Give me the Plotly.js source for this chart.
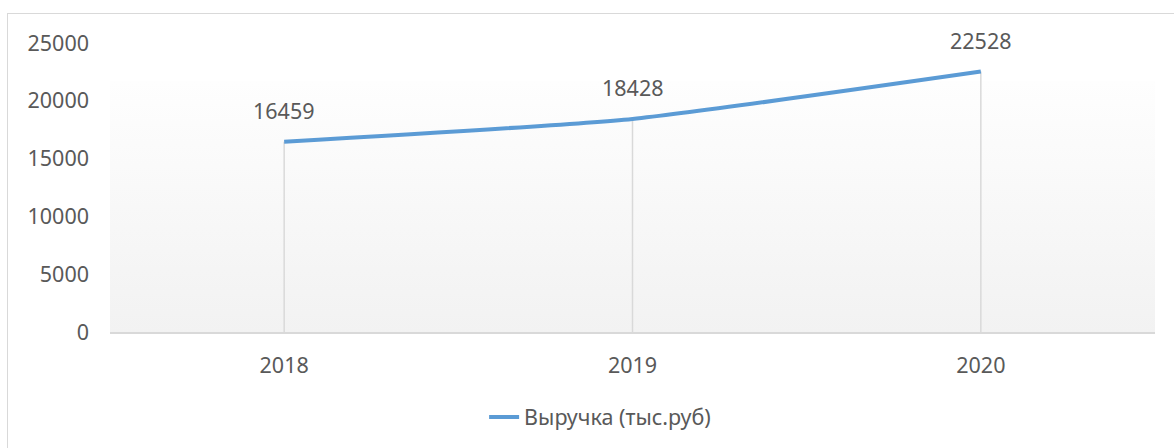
<!DOCTYPE html>
<html>
<head>
<meta charset="utf-8">
<script src="https://cdn.plot.ly/plotly-3.0.1.min.js"></script>
<style>
  html, body { margin: 0; padding: 0; background: #ffffff; overflow: hidden; }
  #wrap { position: relative; width: 1174px; height: 448px; }
  #frame { position: absolute; left: 7px; top: 13px; width: 1200px; height: 500px; border: 1.5px solid #d9d9d9; box-sizing: border-box; }
  #grad { position: absolute; left: 110px; top: 81px; width: 1045px; height: 252px;
          background: linear-gradient(to bottom, #fefefe 0%, #f8f8f8 50%, #f2f2f2 100%); }
  #chart { position: absolute; left: 0; top: 0; width: 1174px; height: 448px; }
</style>
</head>
<body>
<div id="wrap">
  <div id="frame"></div>
  <div id="grad"></div>
  <div id="chart"></div>
</div>
<script>
const years = ["2018", "2019", "2020"];
const revenue = [16459, 18428, 22528];
const seriesName = "Выручка (тыс.руб)";
const yTicks = [0, 5000, 10000, 15000, 20000, 25000];

const fontFam = "Noto Sans, Liberation Sans, sans-serif";
const txtColor = "#595959";
const fs = 21.5;

const dropLines = {
  x: years, y: revenue, type: "scatter", mode: "markers",
  marker: { size: 1, opacity: 0 },
  error_y: { type: "data", symmetric: false, array: revenue.map(() => 0), arrayminus: revenue,
             color: "#d9d9d9", thickness: 1.5, width: 0 },
  showlegend: false, hoverinfo: "skip"
};

const line = {
  x: years, y: revenue, type: "scatter", mode: "lines", name: seriesName,
  line: { color: "#5b9bd5", width: 4, shape: "spline", smoothing: 0.5 }
};

const annotations = revenue.map((v, i) => ({
  x: i, y: v, xref: "x", yref: "y", text: String(v),
  showarrow: false, yshift: 31, xanchor: "center", yanchor: "middle",
  font: { family: fontFam, size: fs, color: txtColor }
}));

const layout = {
  width: 1174, height: 448,
  margin: { l: 110, r: 19, t: 43, b: 115 },
  paper_bgcolor: "rgba(0,0,0,0)", plot_bgcolor: "rgba(0,0,0,0)",
  font: { family: fontFam, size: fs, color: txtColor },
  xaxis: {
    type: "category", range: [-0.5, 2.5], showgrid: false, zeroline: false,
    showline: true, linecolor: "#d9d9d9", linewidth: 1.5,
    ticks: "", ticklabelstandoff: 14, tickfont: { family: fontFam, size: fs, color: txtColor }
  },
  yaxis: {
    range: [0, 25000], tickvals: yTicks, ticktext: yTicks.map(String),
    showgrid: false, zeroline: false, showline: false, ticks: "",
    ticklabelstandoff: 20, tickfont: { family: fontFam, size: fs, color: txtColor }
  },
  showlegend: true,
  legend: {
    orientation: "h", x: 0.358, xanchor: "left", y: -0.29, yanchor: "middle",
    font: { family: fontFam, size: fs, color: txtColor }, bgcolor: "rgba(0,0,0,0)"
  },
  annotations: annotations
};

Plotly.newPlot("chart", [dropLines, line], layout, { displayModeBar: false, staticPlot: true });
</script>
</body>
</html>
